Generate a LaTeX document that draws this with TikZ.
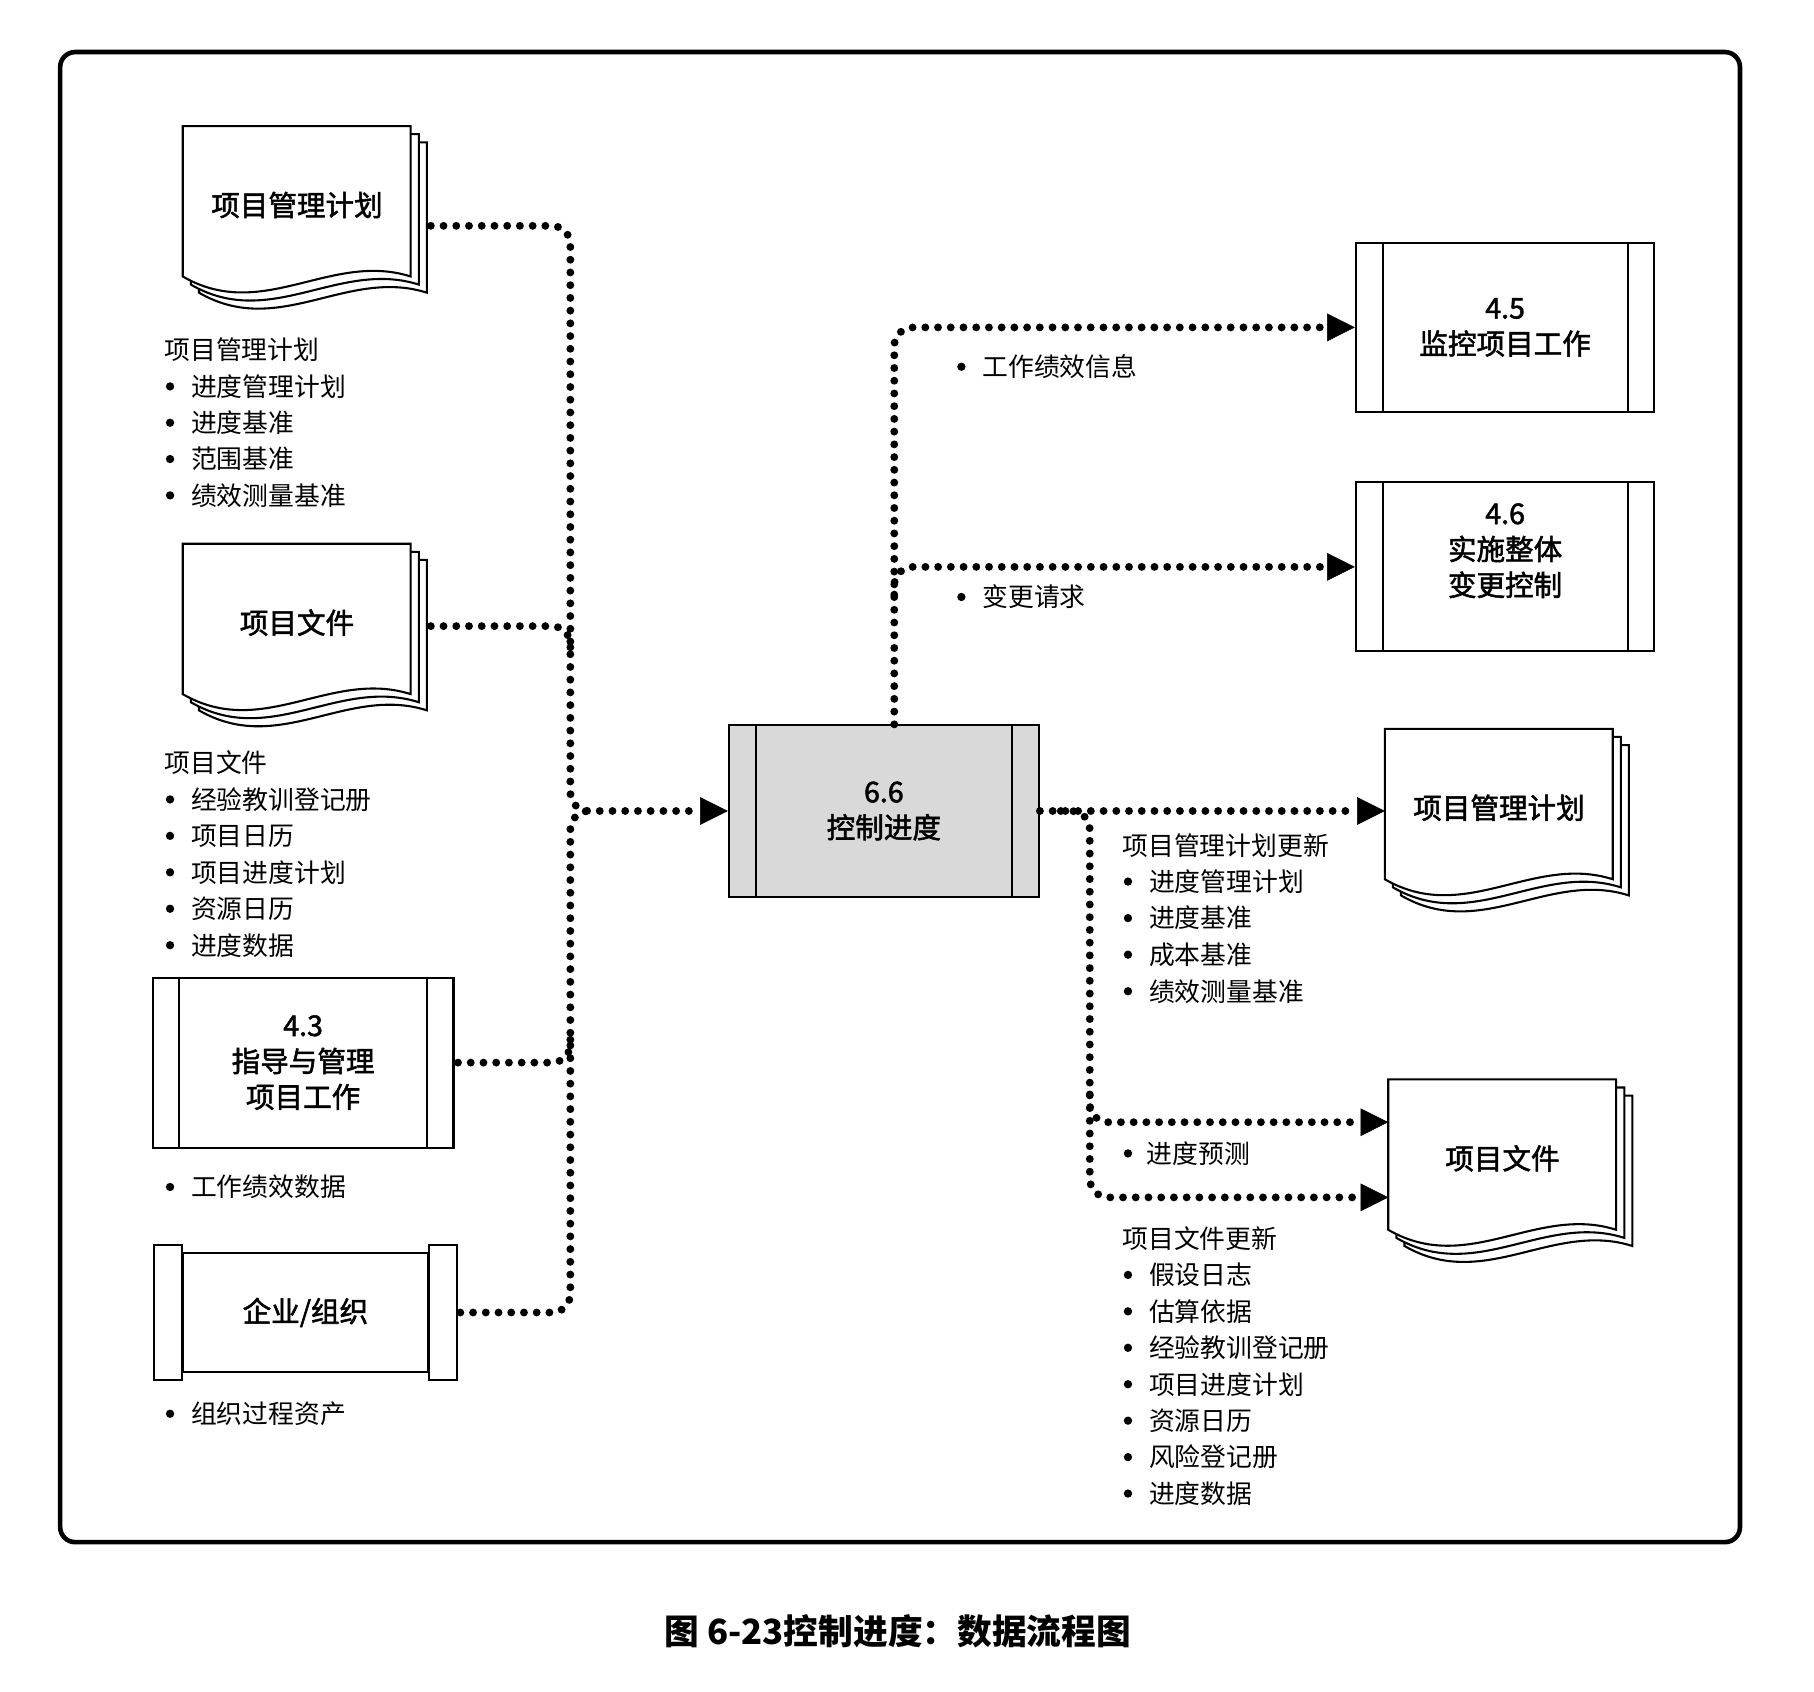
\documentclass[tikz,border=0pt]{standalone}
\usepackage{fontspec}
\setmainfont{Noto Sans CJK SC}
\newfontfamily\medfont{Noto Sans CJK SC}[FakeBold=1.8]
\usetikzlibrary{arrows.meta}
\tikzset{
  boxline/.style={line width=1.8pt, line join=miter},
  ttl/.style={font=\fontsize{24.7}{31}\selectfont\medfont, align=center, inner sep=0pt},
  lst/.style={font=\fontsize{22.3}{26}\selectfont, anchor=west, inner sep=0pt},
  proc/.style={draw, boxline, fill=white, minimum width=258pt, minimum height=146pt, ttl},
  docnode/.style={anchor=north west, minimum width=197pt, minimum height=136pt, ttl},
  dotline/.style={line width=6.8pt, dash pattern=on 0pt off 11pt, line cap=round, rounded corners=16pt},
  arr/.style={-{Triangle[length=24pt,width=24pt,line width=0.4pt]}},
}
\newcommand\docstack[2]{%
  \foreach \o in {14,7,0}{%
    \filldraw[boxline, fill=white] ({#1+\o},{#2+\o}) -- ({#1+197+\o},{#2+\o}) -- ({#1+197+\o},{#2+130+\o})
      .. controls ({#1+128+\o},{#2+108+\o}) and ({#1+69+\o},{#2+170+\o}) .. ({#1+\o},{#2+130+\o}) -- cycle;
  }}
\begin{document}
\begin{tikzpicture}[x=1pt,y=-1pt]
\useasboundingbox (0,0) rectangle (1568,1462);
\draw[line width=4pt, rounded corners=13pt] (52,45) rectangle (1504,1333);

% documents
\docstack{158}{109}
\node[docnode] (docA) at (158,109) {项目管理计划};
\docstack{158}{470}
\node[docnode] (docB) at (158,470) {项目文件};
\docstack{1197}{630}
\node[docnode] (docR1) at (1197,630) {项目管理计划};
\docstack{1200}{933}
\node[docnode] (docR2) at (1200,933) {项目文件};

% processes
\node[proc] (p45) at (1301,283) {4.5\\监控项目工作};
\node[proc] (p46) at (1301,490) {};
\node[ttl] (t46) at (1301,476) {4.6\\实施整体\\变更控制};
\node[proc, minimum width=268pt, minimum height=148pt, fill=gray!30] (p66) at (764,701) {6.6\\控制进度};
\node[proc, minimum width=260pt, minimum height=147pt] (p43) at (262,918.5) {4.3\\指导与管理\\项目工作};
\foreach \n in {p45,p46,p66,p43}{
  \draw[boxline] ([xshift=24pt]\n.north west) -- ([xshift=24pt]\n.south west)
                 ([xshift=-24pt]\n.north east) -- ([xshift=-24pt]\n.south east);
}
\node[draw, boxline, minimum width=212pt, minimum height=103pt, ttl] (org) at (264,1134.5) {企业/组织};
\draw[boxline, fill=white] ([shift={(-24,-6)}]org.north west) rectangle ([shift={(0,6)}]org.south west);
\draw[boxline, fill=white] ([shift={(0,-6)}]org.north east) rectangle ([shift={(24,6)}]org.south east);

% coordinates
\coordinate (jL) at (493,701);
\coordinate (busB) at (493,564);
\coordinate (bus43) at (493,894);
\coordinate (jR) at (942,1035);
\coordinate (jR2) at (942,970);
\coordinate (b46) at (773,514);

% left connectors
\draw[dotline,arr] ([shift={(17,18)}]docA.east) -| (jL) -- (p66.west);
\draw[dotline] ([shift={(17,3)}]docB.east) -| (busB);
\draw[dotline] ([xshift=3pt]p43.east) -| (bus43);
\draw[dotline] ([xshift=27pt]org.east) -| (jL) -- ([xshift=12pt]jL);

% right connectors
\draw[dotline,arr] (p66.east) -- (p66.east -| docR1.west);
\draw[dotline,arr] ([xshift=18pt]p66.east) -| (jR) -- (jR -| docR2.west);
\draw[dotline,arr] ([yshift=24pt]jR2) |- (jR2 -| docR2.west);
\draw[dotline,arr] ([xshift=9pt]p66.north) |- (p45.west);
\draw[dotline,arr] (b46) |- (p46.west);

% left lists
\node[lst] (laH) at (142,302) {项目管理计划};
\foreach \t [count=\i] in {进度管理计划,进度基准,范围基准,绩效测量基准}{
  \fill (147,{334+31.4*(\i-1)}) circle (3.6pt);
  \node[lst] (la\i) at (165,{334+31.4*(\i-1)}) {\t};
}
\node[lst] (lbH) at (142,659) {项目文件};
\foreach \t [count=\i] in {经验教训登记册,项目日历,项目进度计划,资源日历,进度数据}{
  \fill (147,{691+31.5*(\i-1)}) circle (3.6pt);
  \node[lst] (lb\i) at (165,{691+31.5*(\i-1)}) {\t};
}
\fill (147,1026) circle (3.6pt);
\node[lst] (lc1) at (165,1026) {工作绩效数据};
\fill (147,1222) circle (3.6pt);
\node[lst] (ld1) at (165,1222) {组织过程资产};

% top-right labels
\fill (831,317) circle (3.6pt);
\node[lst] (le1) at (849,317) {工作绩效信息};
\fill (831,516) circle (3.6pt);
\node[lst] (lf1) at (849,516) {变更请求};

% right lists
\node[lst] (lgH) at (970,731) {项目管理计划更新};
\foreach \t [count=\i] in {进度管理计划,进度基准,成本基准,绩效测量基准}{
  \fill (975,{762+31.6*(\i-1)}) circle (3.6pt);
  \node[lst] (lg\i) at (993,{762+31.6*(\i-1)}) {\t};
}
\fill (975,997) circle (3.6pt);
\node[lst] (lh1) at (991,997) {进度预测};
\node[lst] (liH) at (970,1071) {项目文件更新};
\foreach \t [count=\i] in {假设日志,估算依据,经验教训登记册,项目进度计划,资源日历,风险登记册,进度数据}{
  \fill (975,{1102+31.5*(\i-1)}) circle (3.6pt);
  \node[lst] (li\i) at (993,{1102+31.5*(\i-1)}) {\t};
}

% caption
\node[font=\fontsize{30}{36}\selectfont\bfseries, inner sep=0pt] (cap) at (776,1410) {图 6-23控制进度：数据流程图};
\end{tikzpicture}
\end{document}
